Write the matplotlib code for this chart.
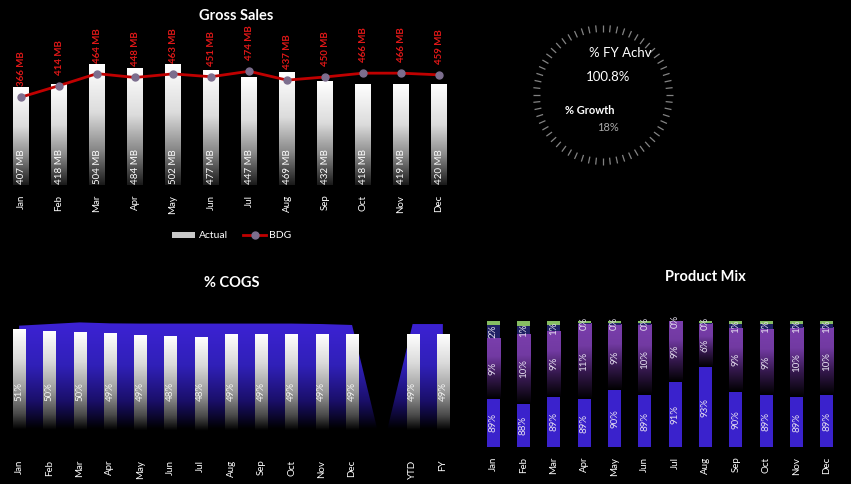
import numpy as np
import matplotlib
matplotlib.use('Agg')
import matplotlib.pyplot as plt
from matplotlib.colors import LinearSegmentedColormap
from matplotlib.patches import Patch
from matplotlib.lines import Line2D
from matplotlib.collections import LineCollection

plt.rcParams['font.family'] = ['Lato', 'DejaVu Sans']

W, H = 851, 484

# ---- data ----
months = ['Jan', 'Feb', 'Mar', 'Apr', 'May', 'Jun', 'Jul', 'Aug', 'Sep', 'Oct', 'Nov', 'Dec']
actual = [407, 418, 504, 484, 502, 477, 447, 469, 432, 418, 419, 420]
bdg = [366, 414, 464, 448, 463, 451, 474, 437, 450, 466, 466, 459]

cogs_cats = months + ['', 'YTD', 'FY']
cogs_pct = [51.1, 50.4, 50.2, 49.4, 48.9, 48.4, 47.7, 49.3, 49.3, 49.3, 49.3, 49.3, np.nan, 49.3, 49.3]
cogs_area = [52.9, 53.6, 54.3, 53.9, 53.8, 53.8, 53.8, 53.8, 53.8, 53.8, 53.6, 53.2, 0, 53.6, 53.6]

mix_a = [88.9, 88.2, 89.2, 88.8, 90.1, 89.4, 91.3, 93.4, 89.9, 89.4, 89.1, 89.4]
mix_b = [8.7, 9.9, 9.4, 10.8, 9.4, 10.1, 8.7, 6.2, 9.1, 9.4, 9.9, 9.6]
mix_c = [1.8, 1.2, 0.8, 0.1, 0.2, 0.2, 0.0, 0.1, 0.6, 0.8, 0.6, 0.6]
mix_d = [0.6, 0.7, 0.6, 0.3, 0.3, 0.3, 0.0, 0.3, 0.4, 0.4, 0.4, 0.4]

fy_achv = 100.8
growth = 18

fig = plt.figure(figsize=(W / 100, H / 100), dpi=100, facecolor='black')


def px_axes(left, top, right, bottom):
    ax = fig.add_axes([left / W, 1 - bottom / H, (right - left) / W, (bottom - top) / H])
    ax.set_facecolor('black')
    for s in ax.spines.values():
        s.set_visible(False)
    ax.set_yticks([])
    return ax


def fig_text(x, y, s, **kw):
    fig.text(x / W, 1 - y / H, s, ha='center', va='center', **kw)


def grad(ax, x0, x1, y0, y1, cmap):
    g = np.linspace(1, 0, 256).reshape(-1, 1)
    ax.imshow(g, extent=[x0, x1, y0, y1], aspect='auto', cmap=cmap,
              vmin=0, vmax=1, origin='upper', interpolation='bilinear', zorder=2)


def style_xticks(ax, labels):
    ax.set_xticks(range(len(labels)))
    ax.set_xticklabels(labels, rotation=90, color='white', fontsize=7)
    ax.tick_params(axis='x', length=0, pad=7)


gray_bar = LinearSegmentedColormap.from_list(
    'gb', [(0, '#1a1a1a'), (0.3, '#8a8a8a'), (0.6, '#dcdcdc'), (1, '#ffffff')])
cogs_bar = LinearSegmentedColormap.from_list(
    'cb', [(0, '#000000'), (0.17, '#000000'), (0.3, '#4a4a4a'), (0.5, '#9a9a9a'),
           (0.75, '#dadada'), (1, '#ffffff')])
area_cm = LinearSegmentedColormap.from_list(
    'ac', [(0, '#000000'), (0.15, '#000000'), (0.35, '#1a0f6a'), (0.6, '#3020b8'),
           (0.9, '#3c22d4'), (1, '#3c22d4')])
purple_cm = LinearSegmentedColormap.from_list(
    'pc', [(0, '#000000'), (0.35, '#34184c'), (0.7, '#723aa2'), (1, '#7a3eac')])

# ---- Gross Sales ----
ax1 = px_axes(2, 41, 458, 185)
bw = 0.4
for i, v in enumerate(actual):
    grad(ax1, i - bw / 2, i + bw / 2, 0, v, gray_bar)
    ax1.text(i, 6, f'{v} MB', rotation=90, ha='center', va='bottom',
             color='white', fontsize=7, zorder=5)
ax1.plot(range(len(bdg)), bdg, color='#c00000', lw=2, marker='o', ms=5,
         mfc='#7c6e8e', mec='#7c6e8e', zorder=4)
for i, v in enumerate(bdg):
    ax1.annotate(f'{v} MB', (i, v), xytext=(0, 8), textcoords='offset points',
                 rotation=90, ha='center', va='bottom', color='#e01818',
                 fontsize=7, fontweight='bold', zorder=6)
ax1.set_xlim(-0.5, len(months) - 0.5)
ax1.set_ylim(0, 600)
style_xticks(ax1, months)
fig_text(236, 16, 'Gross Sales', color='white', fontsize=10.5, fontweight='bold')
handles = [Patch(facecolor='#c8c8c8', edgecolor='none', label='Actual'),
           Line2D([], [], color='#c00000', lw=2, marker='o', ms=5,
                  mfc='#7c6e8e', mec='#7c6e8e', label='BDG')]
fig.legend(handles=handles, loc='center', bbox_to_anchor=(232 / W, 1 - 236 / H),
           ncol=2, frameon=False, fontsize=7.5, labelcolor='white',
           handlelength=2.2, handleheight=0.5, columnspacing=1.5, handletextpad=0.3)

# ---- gauge ----
axg = px_axes(523, 15, 683, 175)
axg.set_xticks([])
axg.set_xlim(-80, 80)
axg.set_ylim(-80, 80)
ang = np.linspace(0, 2 * np.pi, 60, endpoint=False)
segs = [[(63 * np.cos(a), 63 * np.sin(a)), (70 * np.cos(a), 70 * np.sin(a))] for a in ang]
axg.add_collection(LineCollection(segs, colors='#9a9a9a', linewidths=0.9, alpha=0.85))
fig_text(620, 53, '% FY Achv', color='white', fontsize=9.5)
fig_text(608, 77, f'{fy_achv:.1f}%', color='white', fontsize=9.5)
fig_text(590, 111, '% Growth', color='white', fontsize=8, fontweight='bold')
fig_text(608, 127, f'{growth}%', color='#aaaaaa', fontsize=8)

# ---- % COGS ----
ax2 = px_axes(4, 309, 458, 450)
x2 = np.arange(len(cogs_cats))
poly = ax2.fill_between(x2, 0, cogs_area, color='none', lw=0)
im = ax2.imshow(np.linspace(1, 0, 256).reshape(-1, 1), extent=[-0.5, 14.5, 0, 60],
                aspect='auto', cmap=area_cm, vmin=0, vmax=1, origin='upper',
                interpolation='bilinear', zorder=1)
im.set_clip_path(poly.get_paths()[0], transform=ax2.transData)
bw2 = 0.4
for i, v in enumerate(cogs_pct):
    if np.isnan(v):
        continue
    grad(ax2, i - bw2 / 2, i + bw2 / 2, 0, v, cogs_bar)
    ax2.text(i, 25, f'{v:.0f}%', rotation=90, ha='center', va='center',
             color='#f4f4f4', fontsize=7, zorder=5)
ax2.set_xlim(-0.5, len(cogs_cats) - 0.5)
ax2.set_ylim(0, 60)
style_xticks(ax2, cogs_cats)
fig_text(232, 283, '% COGS', color='white', fontsize=10.5, fontweight='bold')

# ---- Product Mix ----
ax3 = px_axes(478, 321, 842, 447)
bw3 = 0.43
x3 = np.arange(len(months))
ax3.bar(x3, mix_a, width=bw3, color='#3a22cc', zorder=2)
for i in range(len(months)):
    grad(ax3, i - bw3 / 2, i + bw3 / 2, mix_a[i], mix_a[i] + mix_b[i], purple_cm)
bot_c = np.array(mix_a) + np.array(mix_b)
ax3.bar(x3, mix_c, bottom=bot_c, width=bw3, color='#1e2064', zorder=3)
ax3.bar(x3, mix_d, bottom=bot_c + np.array(mix_c), width=bw3, color='#86bd62', zorder=3)
for i in range(len(months)):
    ax3.text(i, 82 + (mix_a[i] - 82) / 2, f'{mix_a[i]:.0f}%', rotation=90,
             ha='center', va='center', color='#e6e0f0', fontsize=7, zorder=5)
    ax3.text(i, mix_a[i] + mix_b[i] / 2, f'{mix_b[i]:.0f}%', rotation=90,
             ha='center', va='center', color='#e6e0f0', fontsize=7, zorder=5)
    ax3.text(i, bot_c[i] + mix_c[i] / 2, f'{mix_c[i]:.0f}%', rotation=90,
             ha='center', va='center', color='#e6e0f0', fontsize=7, zorder=5, clip_on=False)
ax3.set_xlim(-0.5, len(months) - 0.5)
ax3.set_ylim(82, 100)
style_xticks(ax3, months)
fig_text(705, 277, 'Product Mix', color='white', fontsize=10.5, fontweight='bold')

fig.savefig('out.png', dpi=100, facecolor='black')
